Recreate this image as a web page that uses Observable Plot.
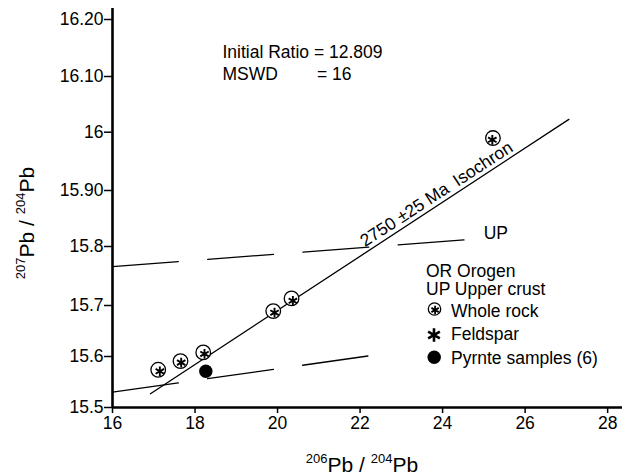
<!DOCTYPE html>
<html><head><meta charset="utf-8">
<script src="https://cdn.jsdelivr.net/npm/d3@7"></script>
<script src="https://cdn.jsdelivr.net/npm/@observablehq/plot@0.6"></script>
<style>body{margin:0;background:#fff} svg{display:block}</style>
</head><body><div id="chart"></div>
<script>
// ---- data ----
const xTicks = [16, 18, 20, 22, 24, 26, 28];
const yTicks = [15.5, 15.6, 15.7, 15.8, 15.9, 16.0, 16.1, 16.2];
const yTickLabels = ["15.5", "15.6", "15.7", "15.8", "15.90", "16", "16.10", "16.20"];
const xDomain = [16, 28.36];
const yTop = 16.22;

const wholeRockX = [17.108, 17.648, 18.199, 19.896, 20.339, 25.220];
const wholeRockY = [15.574, 15.591, 15.608, 15.689, 15.712, 15.990];
const feldsparX  = [17.147, 17.665, 18.230, 19.927, 20.371, 25.205];
const feldsparY  = [15.571, 15.588, 15.605, 15.686, 15.708, 15.987];
const pyriteX = [18.262];
const pyriteY = [15.571];

const isochronX = [16.92, 27.06];
const isochronY = [15.527, 16.023];
const upperCrustX = [16, 24.56];
const upperCrustY = [15.766, 15.812];
const orogenX = [16, 22.19];
const orogenY = [15.530, 15.601];

const isochronLabel = "2750 ±25 Ma\u2002Isochron";
const isochronLabelAt = {x: 23.925, y: 15.885};
const ratioText = "Initial Ratio = 12.809";
const mswdName = "MSWD";
const mswdValue = "= 16";
const upLabel = "UP";
const legendText = ["OR Orogen", "UP Upper crust"];
const legendSymbols = ["Whole rock", "Feldspar", "Pyrnte samples (6)"];

// ---- build tables ----
const wholeRock = wholeRockX.map((x, i) => ({x, y: wholeRockY[i]}));
const feldspar = feldsparX.map((x, i) => ({x, y: feldsparY[i]}));
const pyrite = pyriteX.map((x, i) => ({x, y: pyriteY[i]}));
const isochron = isochronX.map((x, i) => ({x, y: isochronY[i]}));
const upperCrust = upperCrustX.map((x, i) => ({x, y: upperCrustY[i]}));
const orogen = orogenX.map((x, i) => ({x, y: orogenY[i]}));

// the reference's y axis is hand-spaced (uneven tick intervals): reproduce it with a warp
const yWarp = d3.scaleLinear().domain([...yTicks, yTop]).range([0, 51, 102, 161, 217, 275.3, 331, 388, 399]);
const yTicksWarped = yTicks.map(yWarp);

const FONT = "'Liberation Sans', Arial, Helvetica, sans-serif";
const ML = 112, MT = 8;
const note = (t, ax, ay, o = {}) => Plot.text([t], {frameAnchor: "top-left", dx: ax - ML, dy: ay - MT,
  textAnchor: "start", lineAnchor: "bottom", fontSize: 17.5, fill: "black", ...o});
const sym = (ax, ay, o) => Plot.dot([0], {frameAnchor: "top-left", dx: ax - ML, dy: ay - MT, ...o});

const plot = Plot.plot({
  width: 628,
  height: 476,
  marginLeft: ML,
  marginRight: 6,
  marginTop: MT,
  marginBottom: 69,
  style: {fontFamily: FONT, fontSize: "17.5px", color: "black", background: "white", overflow: "visible"},
  x: {domain: xDomain, label: null},
  y: {transform: yWarp, label: null},
  marks: [
    Plot.axisX({ticks: xTicks, tickSize: 6, tickPadding: 3, strokeWidth: 1.5, label: null, fontSize: 17.5, tickFormat: d => String(d)}),
    Plot.axisY({ticks: yTicksWarped, tickSize: 8, tickPadding: 1, strokeWidth: 1.5, label: null, fontSize: 17.5,
      tickFormat: d => yTickLabels[yTicksWarped.findIndex(v => Math.abs(v - d) < 1e-6)]}),
    Plot.ruleX([xDomain[0]], {y1: yTicks[0], y2: yTop, strokeWidth: 2.6, stroke: "black"}),
    Plot.ruleY([yTicks[0]], {x1: xDomain[0], x2: xDomain[1], strokeWidth: 2.6, stroke: "black"}),
    Plot.line(upperCrust, {x: "x", y: "y", stroke: "black", strokeWidth: 1.3, strokeDasharray: "66,29.5"}),
    Plot.line(orogen, {x: "x", y: "y", stroke: "black", strokeWidth: 1.3, strokeDasharray: "66.5,29.5"}),
    Plot.line(isochron, {x: "x", y: "y", stroke: "black", strokeWidth: 1.3}),
    Plot.text([isochronLabel], {x: () => isochronLabelAt.x, y: () => isochronLabelAt.y, rotate: -33, textAnchor: "middle",
      lineAnchor: "bottom", fontSize: 17.5, fill: "black"}),
    Plot.text(upperCrust.slice(-1), {x: "x", y: "y", text: () => upLabel, dx: 18, dy: -1, textAnchor: "start",
      lineAnchor: "bottom", fontSize: 17.5, fill: "black"}),
    Plot.dot(wholeRock, {x: "x", y: "y", r: 7.3, stroke: "black", strokeWidth: 1.3, fill: "white"}),
    Plot.dot(feldspar, {x: "x", y: "y", r: 4.6, symbol: "asterisk", stroke: "black", strokeWidth: 1.9}),
    Plot.dot(pyrite, {x: "x", y: "y", r: 6.7, fill: "black", stroke: "none"}),
    note(ratioText, 222, 57),
    note(mswdName, 222, 79.3),
    note(mswdValue, 316.5, 79.3),
    note(legendText[0], 425.5, 276),
    note(legendText[1], 425.5, 294),
    sym(434, 308.5, {r: 6.2, stroke: "black", strokeWidth: 1.3, fill: "white"}),
    sym(434.6, 309.5, {r: 4, symbol: "asterisk", stroke: "black", strokeWidth: 1.8}),
    note(legendSymbols[0], 450.5, 316.7),
    sym(433.5, 334.5, {r: 6.4, symbol: "asterisk", stroke: "black", strokeWidth: 2.6}),
    note(legendSymbols[1], 450.5, 339.5),
    sym(433.7, 356.7, {r: 6.7, fill: "black", stroke: "none"}),
    note(legendSymbols[2], 450.5, 363.3)
  ]
});

const svg = d3.select(plot);
function isotopeLabel(sel, a, b) {
  sel.attr("font-family", FONT).attr("fill", "black").attr("text-anchor", "middle");
  sel.append("tspan").attr("font-size", 13).attr("dy", -9).text(a);
  sel.append("tspan").attr("font-size", 21).attr("dy", 9).text("Pb / ");
  sel.append("tspan").attr("font-size", 13).attr("dy", -9).text(b);
  sel.append("tspan").attr("font-size", 21).attr("dy", 9).text("Pb");
}
isotopeLabel(svg.append("text").attr("x", 362).attr("y", 471.7), "206", "204");
isotopeLabel(svg.append("text").attr("transform", "translate(33.5,223) rotate(-90)"), "207", "204");

document.getElementById("chart").append(plot);
</script>
</body></html>
